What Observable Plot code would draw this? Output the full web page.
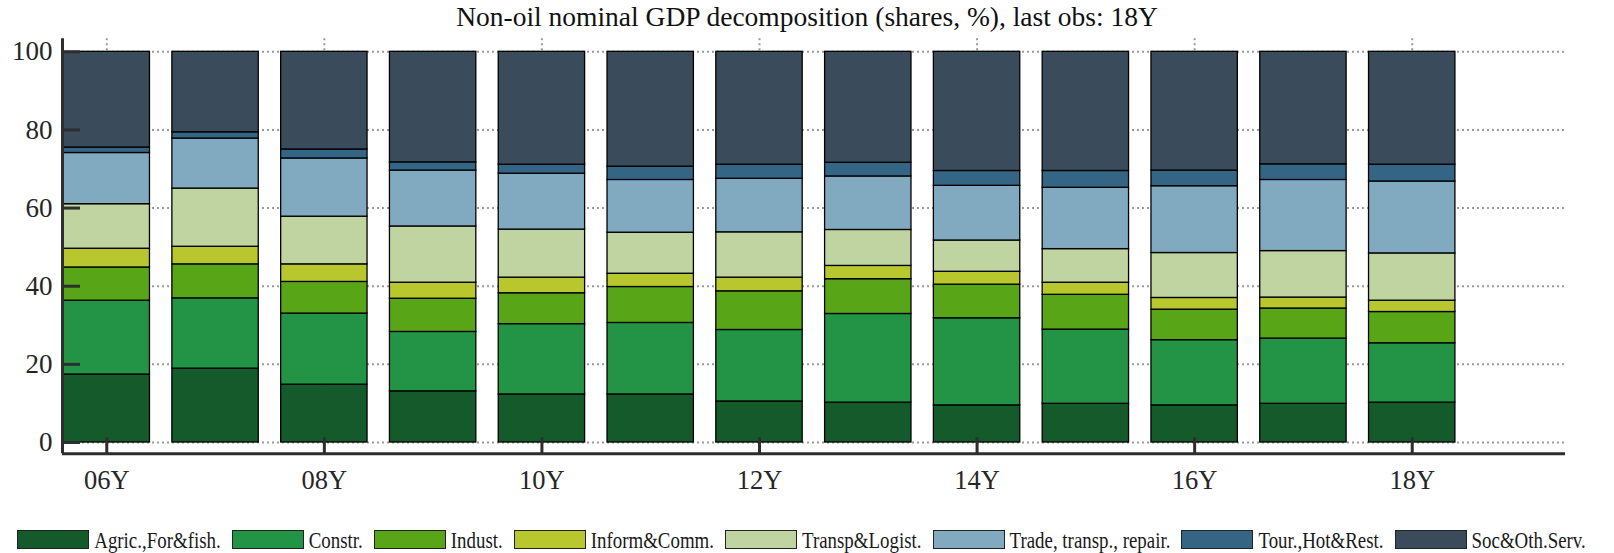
<!DOCTYPE html>
<html><head><meta charset="utf-8">
<script src="https://cdn.jsdelivr.net/npm/d3@7"></script>
<script src="https://cdn.jsdelivr.net/npm/@observablehq/plot@0.6"></script>
<style>
body{margin:0;background:#fff;width:1614px;height:553px;overflow:hidden;font-family:"Liberation Serif","Times New Roman",serif;color:#262626;position:relative}
#title{height:36px;line-height:34px;text-align:center;font-size:27.5px;color:#111}
#chart{height:475px}
#legend{position:absolute;top:529px;left:0;width:1614px;display:flex;justify-content:center;align-items:center;height:20px}
.sw{width:70px;height:17px;border:1px solid #222;margin-right:5px;flex:none}
.lt{font-size:18.9px;margin-right:11px;display:inline-block;transform:scaleY(1.27);line-height:19px;white-space:pre;color:#1a1a1a}
</style></head><body>
<div id="title">Non-oil nominal GDP decomposition (shares, %), last obs: 18Y</div>
<div id="chart"></div>
<div id="legend"></div>
<script>
// ---- data ----
const years = [2006, 2007, 2008, 2009, 2010, 2011, 2012, 2013, 2014, 2015, 2016, 2017, 2018];
const sectors = ["Agric.,For&fish.", "Constr.", "Indust.", "Inform&Comm.", "Transp&Logist.", "Trade, transp., repair.", "Tour.,Hot&Rest.", "Soc&Oth.Serv."];
const colors = ["#155a2b", "#239346", "#58a518", "#b7c72d", "#bfd4a1", "#81aac0", "#346585", "#3a4b5b"];
const agric  = [17.4, 18.9, 14.8, 13.1, 12.3, 12.3, 10.5, 10.2,  9.5,  9.9,  9.5,  9.9, 10.2];
const constr = [18.9, 18.0, 18.2, 15.2, 18.0, 18.3, 18.3, 22.7, 22.3, 19.0, 16.7, 16.7, 15.2];
const indust = [ 8.5,  8.7,  8.1,  8.5,  7.9,  9.2,  9.9,  8.9,  8.6,  8.9,  7.8,  7.7,  8.0];
const inform = [ 4.8,  4.5,  4.5,  4.1,  4.0,  3.4,  3.5,  3.4,  3.3,  3.1,  3.0,  2.8,  2.9];
const transp = [11.4, 14.9, 12.2, 14.4, 12.3, 10.5, 11.6,  9.2,  8.0,  8.6, 11.5, 11.9, 12.1];
const trade  = [13.1, 12.8, 14.9, 14.3, 14.3, 13.5, 13.7, 13.7, 14.0, 15.7, 17.1, 18.2, 18.4];
const tour   = [ 1.4,  1.6,  2.3,  2.1,  2.3,  3.4,  3.6,  3.5,  3.8,  4.3,  4.0,  4.0,  4.3];
const soc    = [24.5, 20.6, 25.0, 28.3, 28.9, 29.4, 28.9, 28.4, 30.5, 30.5, 30.4, 28.8, 28.9];
const tickYears  = [2006, 2008, 2010, 2012, 2014, 2016, 2018];
const tickLabels = ["06Y", "08Y", "10Y", "12Y", "14Y", "16Y", "18Y"];
const yTicks = [0, 20, 40, 60, 80, 100];

// ---- build table (stacked) ----
const series = [agric, constr, indust, inform, transp, trade, tour, soc];
const rows = [];
years.forEach((yr, i) => {
  let acc = 0;
  sectors.forEach((s, j) => {
    const v = series[j][i];
    rows.push({year: yr, sector: s, y1: acc, y2: acc + v});
    acc += v;
  });
});

const xDomain = [2005.593, 2019.409];
const yDomain = [-2.89, 103.33];
const half = 0.397;
const dark = "#2e2e2e";
const gridStyle = {stroke: "#9a9a9a", strokeOpacity: 1, strokeWidth: 2, strokeDasharray: "2,3"};

const chart = Plot.plot({
  width: 1614, height: 475,
  marginTop: 2.3, marginBottom: 57.7, marginLeft: 62, marginRight: 49,
  x: {type: "linear", domain: xDomain, label: null},
  y: {domain: yDomain, label: null},
  color: {domain: sectors, range: colors},
  style: {fontFamily: "Liberation Serif, Times New Roman, serif", fontSize: "26px", color: "#262626", background: "white", overflow: "visible"},
  marks: [
    Plot.gridY(yTicks, gridStyle),
    Plot.gridX(tickYears, gridStyle),
    Plot.rect(rows, {x1: d => d.year - half, x2: d => d.year + half, y1: "y1", y2: "y2", fill: "sector", stroke: "#000", strokeWidth: 1.3}),
    Plot.axisY(yTicks, {tickSize: 0, tickPadding: 10, fontSize: 27, fill: "#262626"}),
    Plot.axisY(yTicks, {tickSize: 18, dx: 18, tickFormat: () => "", stroke: dark, strokeWidth: 3}),
    Plot.axisX(tickYears, {tickSize: 0, tickPadding: 16, fontSize: 26.5, fill: "#262626", tickFormat: (d) => tickLabels[tickYears.indexOf(d)]}),
    Plot.axisX(tickYears, {tickSize: 16, dy: -16, tickFormat: () => "", stroke: dark, strokeWidth: 3}),
    Plot.ruleX([xDomain[0]], {stroke: dark, strokeWidth: 3}),
    Plot.ruleY([yDomain[0]], {stroke: dark, strokeWidth: 3})
  ]
});
document.getElementById("chart").appendChild(chart);

// ---- legend ----
const leg = document.getElementById("legend");
sectors.forEach((s, i) => {
  const sw = document.createElement("div");
  sw.className = "sw";
  sw.style.background = colors[i];
  const t = document.createElement("span");
  t.className = "lt";
  t.textContent = s;
  leg.appendChild(sw);
  leg.appendChild(t);
});
</script>
</body></html>
